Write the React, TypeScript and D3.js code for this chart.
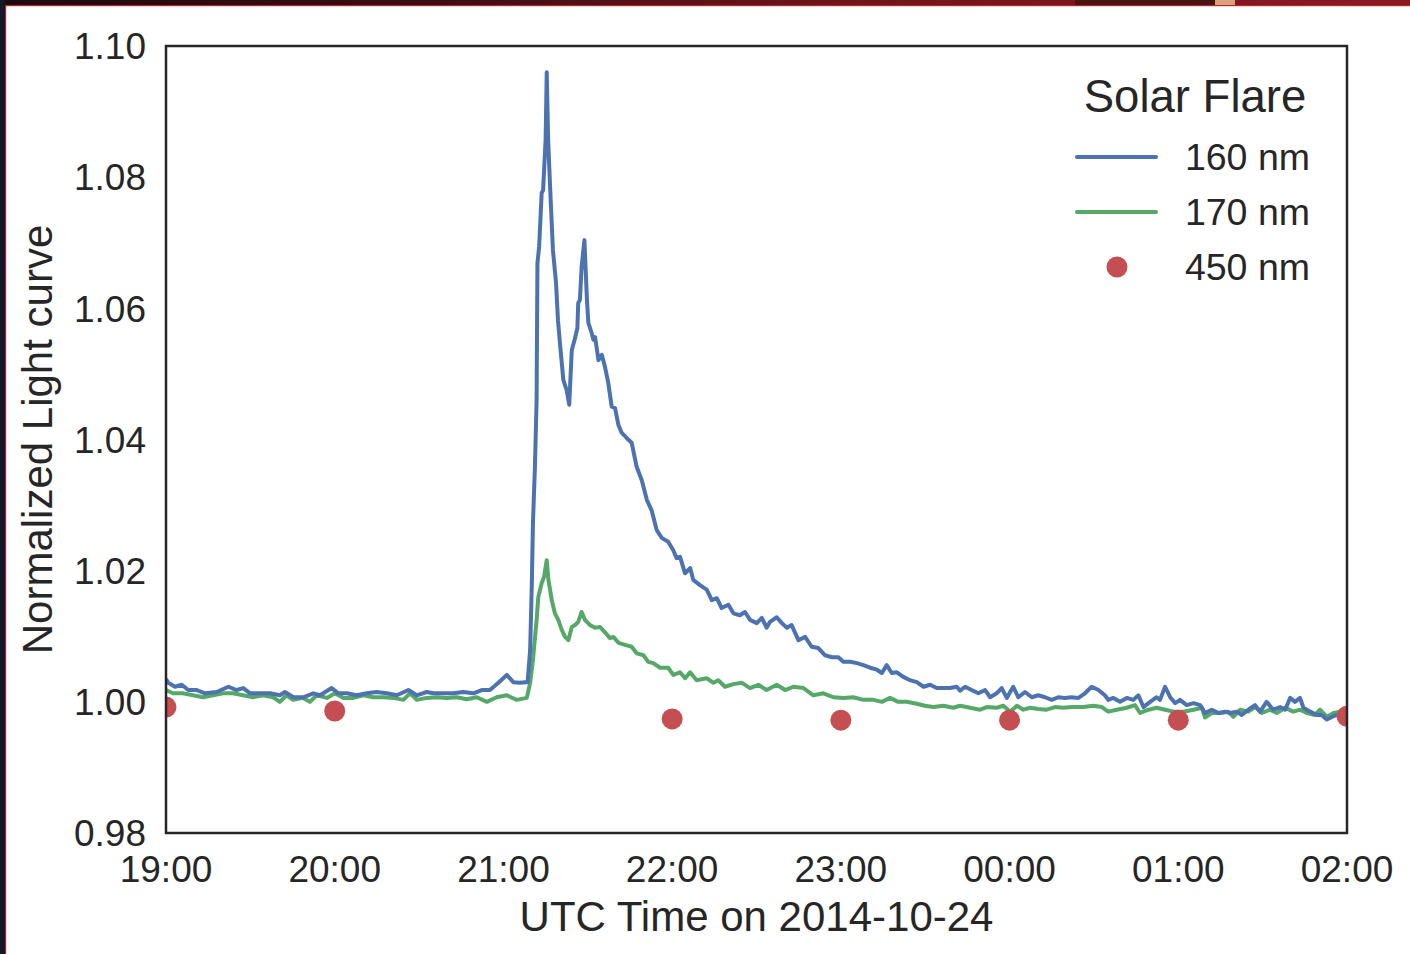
import React from "react";
import * as d3 from "d3";

// Minutes after 19:00 UTC paired with normalized flux.
const flux160: [number, number][] = [
  [0, 1.0035], [0.8, 1.0029], [3.2, 1.0023], [5.6, 1.0026], [7.9, 1.0018], [10.9, 1.0018],
  [13.9, 1.0013], [18.0, 1.0015], [22.2, 1.0023], [25.1, 1.0018], [27.5, 1.0021], [29.9, 1.0013],
  [33.4, 1.0013], [37.0, 1.0013], [40.5, 1.001], [42.3, 1.0015], [45.3, 1.0007], [48.8, 1.0007],
  [52.4, 1.0013], [54.8, 1.001], [58.9, 1.0021], [61.3, 1.0013], [64.3, 1.0013], [67.8, 1.001],
  [71.4, 1.0013], [74.9, 1.0015], [78.5, 1.0013], [82.1, 1.001], [86.2, 1.0018], [89.2, 1.001],
  [92.7, 1.0015], [95.1, 1.0013], [98.6, 1.0013], [102.2, 1.0013], [105.7, 1.0015], [109.3, 1.0013],
  [112.3, 1.0018], [115.2, 1.0018], [118.2, 1.0029], [121.2, 1.0041], [123.5, 1.003], [125.9, 1.0029],
  [127.7, 1.003], [128.6, 1.003], [129.5, 1.0079], [130.1, 1.0181], [130.5, 1.0273], [131.2, 1.0358],
  [131.8, 1.046], [131.9, 1.0536], [132.1, 1.0669], [132.7, 1.0694], [133.6, 1.0776], [134.1, 1.078],
  [135.0, 1.0857], [135.4, 1.096], [135.9, 1.0857], [136.6, 1.0785], [137.6, 1.0689], [138.7, 1.0639],
  [139.4, 1.0582], [140.1, 1.0547], [141.3, 1.0491], [142.5, 1.0475], [143.4, 1.0453], [144.3, 1.0536],
  [145.5, 1.0555], [146.3, 1.057], [146.6, 1.0608], [147.2, 1.0613], [147.8, 1.0663], [148.8, 1.0704],
  [149.7, 1.0613], [150.2, 1.0578], [151.4, 1.0562], [152.0, 1.0552], [152.6, 1.0556], [153.8, 1.0521],
  [155.0, 1.0529], [156.1, 1.0511], [157.3, 1.0486], [158.5, 1.045], [159.7, 1.0448], [160.9, 1.0422],
  [162.1, 1.041], [163.9, 1.0402], [165.6, 1.0395], [167.4, 1.0358], [169.2, 1.0338], [171.0, 1.0308],
  [172.7, 1.0292], [174.5, 1.0262], [176.3, 1.025], [178.6, 1.0244], [180.4, 1.0231], [181.6, 1.0219],
  [182.8, 1.0221], [184.6, 1.0196], [186.4, 1.0204], [187.5, 1.0186], [189.9, 1.0178], [192.3, 1.0171],
  [194.1, 1.0155], [195.9, 1.0158], [197.6, 1.0143], [200.0, 1.0148], [201.8, 1.0135], [204.1, 1.0132],
  [205.9, 1.0137], [207.7, 1.0125], [210.1, 1.012], [211.9, 1.0128], [213.6, 1.0113], [214.8, 1.0122],
  [217.2, 1.0129], [219.0, 1.012], [220.8, 1.0113], [222.5, 1.0117], [224.9, 1.0094], [227.3, 1.0099],
  [229.6, 1.0084], [232.0, 1.0082], [234.4, 1.0071], [236.8, 1.0068], [239.1, 1.0068], [240.9, 1.0061],
  [243.3, 1.0061], [245.7, 1.0059], [248.0, 1.0056], [250.4, 1.0052], [252.8, 1.0049], [254.6, 1.0044],
  [256.3, 1.0056], [258.1, 1.0044], [259.9, 1.0045], [262.2, 1.0038], [264.6, 1.0033], [267.0, 1.003],
  [269.4, 1.0023], [271.7, 1.0026], [274.1, 1.0021], [276.4, 1.0021], [278.8, 1.0021], [281.2, 1.0023],
  [282.4, 1.0017], [284.2, 1.0023], [286.5, 1.0018], [288.9, 1.0013], [291.3, 1.0018], [293.1, 1.0007],
  [295.4, 1.0013], [297.2, 1.0021], [299.0, 1.0006], [301.3, 1.0023], [303.1, 1.0007], [305.5, 1.0015],
  [307.9, 1.0007], [310.2, 1.001], [312.6, 1.0007], [315.0, 1.0003], [317.3, 1.0007], [319.7, 1.0006],
  [322.1, 1.0007], [324.5, 1.0006], [326.8, 1.0013], [329.2, 1.0023], [331.6, 1.0018], [333.9, 1.001],
  [335.1, 1.0003], [336.9, 1.0006], [339.3, 1.0], [341.7, 1.0006], [344.0, 1.0003], [345.8, 1.001],
  [347.6, 0.9992], [350.0, 1.0], [352.3, 1.0007], [353.5, 1.0003], [355.3, 1.0023], [357.1, 1.0007],
  [358.9, 0.9998], [360.6, 1.0003], [363.0, 0.9995], [365.4, 0.9998], [367.8, 0.9995], [369.5, 0.9983],
  [371.9, 0.9988], [374.3, 0.9983], [376.6, 0.9985], [378.4, 0.9983], [380.8, 0.9985], [382.6, 0.998],
  [384.9, 0.9988], [387.3, 0.9995], [389.1, 0.9985], [391.4, 1.0], [393.8, 0.9988], [396.2, 0.9992],
  [398.0, 0.9988], [399.8, 1.0006], [401.5, 1.0], [403.3, 1.0006], [404.5, 0.9991], [406.9, 0.9985],
  [409.3, 0.998], [411.0, 0.998], [412.8, 0.9973], [414.6, 0.9977], [416.4, 0.998], [418.7, 0.9983],
  [420, 0.9983],
];

const flux170: [number, number][] = [
  [0, 1.0018], [2.5, 1.0013], [6.0, 1.0013], [9.6, 1.001], [13.2, 1.0007], [16.7, 1.001],
  [20.3, 1.0013], [23.8, 1.0013], [27.4, 1.001], [30.9, 1.0007], [34.5, 1.001], [38.1, 1.0007],
  [40.5, 1.0], [42.9, 1.001], [45.2, 1.0003], [48.7, 1.0006], [51.2, 1.0], [53.6, 1.001],
  [57.2, 1.0006], [60.1, 1.0013], [63.1, 1.0006], [66.6, 1.0006], [70.2, 1.001], [73.7, 1.0007],
  [77.3, 1.0007], [80.8, 1.0006], [84.4, 1.0003], [86.8, 1.0013], [89.2, 1.0003], [92.7, 1.0006],
  [96.3, 1.0007], [99.8, 1.0006], [103.4, 1.0007], [106.9, 1.0004], [110.5, 1.0007], [114.1, 1.0],
  [117.6, 1.0007], [121.2, 1.001], [124.7, 1.0003], [128.3, 1.0006], [129.5, 1.0029], [130.5, 1.0064],
  [131.8, 1.0125], [132.4, 1.016], [133.6, 1.0181], [134.4, 1.019], [135.4, 1.0216], [136.0, 1.0186],
  [137.2, 1.0155], [138.3, 1.0135], [139.5, 1.0125], [140.7, 1.011], [141.9, 1.0099], [143.1, 1.0094],
  [144.3, 1.0114], [145.5, 1.0117], [146.6, 1.0122], [147.8, 1.0137], [149.0, 1.0125], [150.8, 1.0117],
  [152.6, 1.0113], [154.4, 1.0114], [156.1, 1.0106], [157.9, 1.0097], [159.1, 1.0099], [160.9, 1.009],
  [163.9, 1.0086], [165.6, 1.0084], [167.4, 1.0074], [169.8, 1.0071], [171.5, 1.0061], [173.3, 1.0059],
  [175.7, 1.0052], [178.6, 1.0052], [180.4, 1.0041], [182.8, 1.0045], [184.6, 1.0036], [186.4, 1.0045],
  [188.7, 1.0033], [192.3, 1.0036], [194.7, 1.0029], [196.4, 1.0033], [198.8, 1.0023], [201.8, 1.0027],
  [204.8, 1.0029], [207.7, 1.0021], [210.7, 1.0026], [213.6, 1.0018], [217.2, 1.0026], [220.2, 1.0018],
  [223.1, 1.0023], [226.7, 1.0021], [230.2, 1.001], [233.8, 1.0013], [237.3, 1.0007], [240.9, 1.0006],
  [244.4, 1.0007], [248.0, 1.0003], [251.6, 1.0003], [254.6, 1.0], [257.5, 1.0006], [260.4, 1.0],
  [263.4, 1.0], [267.0, 0.9997], [269.9, 0.9994], [272.9, 0.9992], [276.4, 0.9994], [280.0, 0.9991],
  [282.4, 0.9994], [285.9, 0.9991], [289.5, 0.9988], [291.9, 0.9992], [295.4, 0.9991], [297.8, 0.9994],
  [300.2, 0.9985], [302.6, 0.9994], [304.9, 0.9988], [307.3, 0.9991], [310.2, 0.9989], [313.2, 0.9988],
  [316.2, 0.9992], [319.1, 0.9991], [322.1, 0.9992], [326.2, 0.9992], [329.8, 0.9994], [332.8, 0.9992],
  [335.1, 0.9985], [338.1, 0.9988], [341.7, 0.9991], [344.6, 0.9995], [346.4, 0.9983], [349.4, 0.9988],
  [352.3, 0.9991], [355.3, 0.9988], [358.3, 0.9985], [361.8, 0.9985], [365.4, 0.9988], [368.4, 0.9991],
  [369.5, 0.9976], [371.9, 0.9983], [374.9, 0.9983], [377.8, 0.9985], [379.6, 0.9977], [382.0, 0.9988],
  [384.9, 0.9985], [387.3, 0.9992], [389.7, 0.9983], [392.6, 0.9988], [395.0, 0.9983], [398.0, 0.9991],
  [400.9, 0.9985], [403.3, 0.9988], [405.7, 0.9983], [408.6, 0.998], [410.4, 0.9988], [412.8, 0.9977],
  [415.2, 0.9983], [417.6, 0.9985], [420, 0.9983],
];

const flux450: [number, number][] = [
  [0, 0.9992], [60, 0.9986], [180, 0.9974], [240, 0.9972], [300, 0.9972], [360, 0.9972], [420, 0.9978],
];

const yTicks = [0.98, 1.0, 1.02, 1.04, 1.06, 1.08, 1.1];
const legendTitle = "Solar Flare";
const seriesNames = ["160 nm", "170 nm", "450 nm"];
const xTitle = "UTC Time on 2014-10-24";
const yTitle = "Normalized Light curve";

const START = Date.UTC(2014, 9, 24, 19, 0);
const END = Date.UTC(2014, 9, 25, 2, 0);
const toDate = (m: number) => new Date(START + m * 60000);

const W = 1410;
const H = 954;
const M = { left: 166, right: 1347, top: 46, bottom: 833 };
const FONT = "'Liberation Sans', Arial, Helvetica, sans-serif";
const INK = "#262626";
const BLUE = "#4C72B0";
const GREEN = "#55A868";
const RED = "#C44E52";
const LINE_W = 4;

export default function App() {
  const x = d3.scaleUtc().domain([new Date(START), new Date(END)]).range([M.left, M.right]);
  const y = d3.scaleLinear().domain([0.98, 1.1]).range([M.bottom, M.top]);
  const xTicks = x.ticks(d3.utcHour.every(1)!);
  const fmtX = d3.utcFormat("%H:%M");
  const fmtY = d3.format(".2f");

  const line = d3
    .line<[number, number]>()
    .x((d) => x(toDate(d[0])))
    .y((d) => y(d[1]));

  return (
    <svg
      width={W}
      height={H}
      style={{ position: "absolute", left: 0, top: 0, display: "block" }}
      fontFamily={FONT}
    >
      <defs>
        <clipPath id="plot-area">
          <rect x={M.left} y={M.top} width={M.right - M.left} height={M.bottom - M.top} />
        </clipPath>
        <linearGradient id="topband" x1="0" x2="1" y1="0" y2="0">
          <stop offset="0" stopColor="#1a0b10" />
          <stop offset="0.3" stopColor="#3a0e14" />
          <stop offset="0.6" stopColor="#6e161b" />
          <stop offset="1" stopColor="#8c1a1f" />
        </linearGradient>
      </defs>
      <rect x={0} y={0} width={W} height={H} fill="#ffffff" />
      {/* window frame */}
      <rect x={0} y={0} width={W} height={5} fill="url(#topband)" />
      <rect x={1075} y={0} width={150} height={5} fill="#4a1410" />
      <rect x={1215} y={0} width={20} height={5} fill="#d9a07a" />
      <rect x={0} y={5} width={W} height={1.2} fill="#b8242a" />
      <rect x={0} y={0} width={5} height={H} fill="#111a2a" />
      <rect x={5} y={5} width={1.2} height={H} fill="#b8242a" />

      <g clipPath="url(#plot-area)">
        <path d={line(flux170) ?? ""} fill="none" stroke={GREEN} strokeWidth={LINE_W} strokeLinejoin="round" />
        <path d={line(flux160) ?? ""} fill="none" stroke={BLUE} strokeWidth={LINE_W} strokeLinejoin="round" />
        {flux450.map((d, i) => (
          <circle key={i} cx={x(toDate(d[0]))} cy={y(d[1])} r={10.5} fill={RED} />
        ))}
      </g>

      <rect
        x={M.left}
        y={M.top}
        width={M.right - M.left}
        height={M.bottom - M.top}
        fill="none"
        stroke={INK}
        strokeWidth={2.5}
      />

      {yTicks.map((t) => (
        <text key={t} x={146} y={y(t)} dy="0.36em" textAnchor="end" fontSize={37} fill={INK}>
          {fmtY(t)}
        </text>
      ))}
      {xTicks.map((t) => (
        <text key={t.getTime()} x={x(t)} y={882} textAnchor="middle" fontSize={37} fill={INK}>
          {fmtX(t)}
        </text>
      ))}

      <text x={(M.left + M.right) / 2} y={931} textAnchor="middle" fontSize={42} fill={INK}>
        {xTitle}
      </text>
      <text
        transform={`translate(52, ${(M.top + M.bottom) / 2}) rotate(-90)`}
        textAnchor="middle"
        fontSize={42}
        fill={INK}
      >
        {yTitle}
      </text>

      {/* legend */}
      <g>
        <text x={1195} y={112} textAnchor="middle" fontSize={45.5} fill={INK}>
          {legendTitle}
        </text>
        <line x1={1077} x2={1156} y1={157} y2={157} stroke={BLUE} strokeWidth={LINE_W} strokeLinecap="round" />
        <line x1={1077} x2={1156} y1={212} y2={212} stroke={GREEN} strokeWidth={LINE_W} strokeLinecap="round" />
        <circle cx={1117} cy={267} r={10.5} fill={RED} />
        {seriesNames.map((s, i) => (
          <text key={s} x={1310} y={170 + i * 55} textAnchor="end" fontSize={37.5} fill={INK}>
            {s}
          </text>
        ))}
      </g>
    </svg>
  );
}
